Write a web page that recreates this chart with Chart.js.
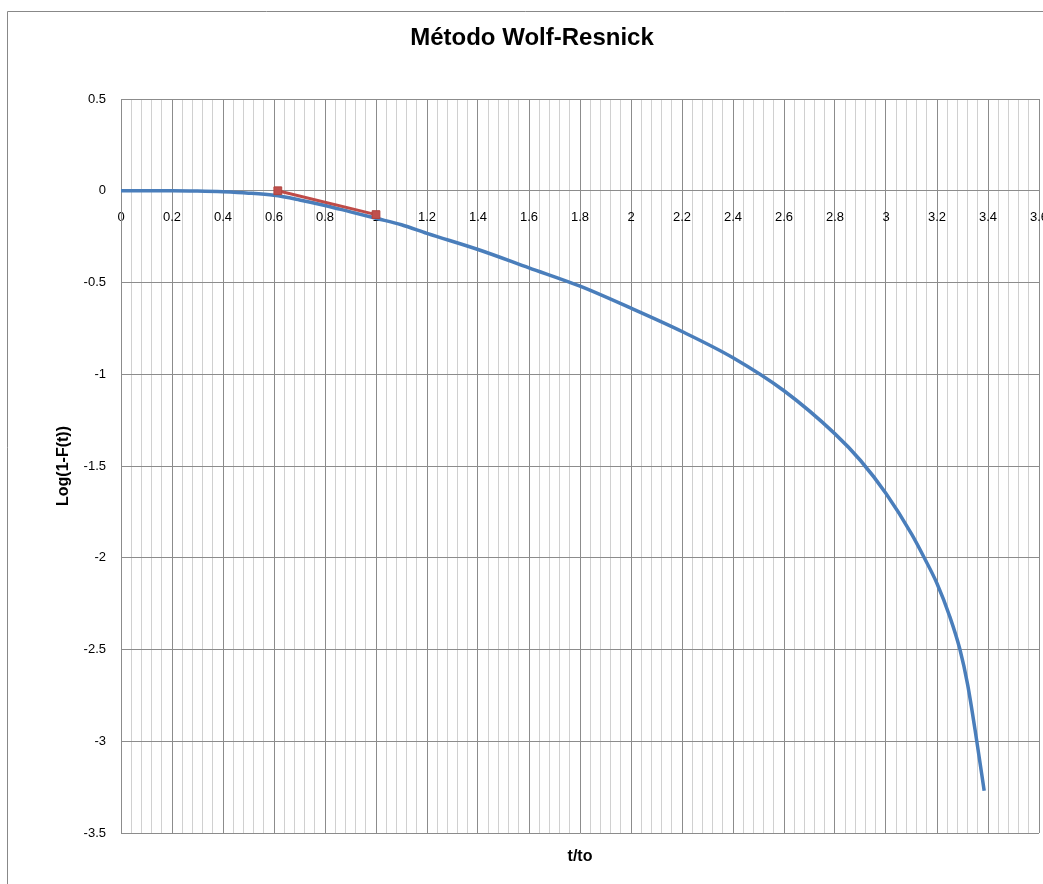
<!DOCTYPE html>
<html>
<head>
<meta charset="utf-8">
<script src="https://cdn.jsdelivr.net/npm/chart.js@4/dist/chart.umd.min.js"></script>
<style>
html,body{margin:0;padding:0;background:#fff;}
#wrap{position:relative;width:1043px;height:884px;}
</style>
</head>
<body>
<div id="wrap"><canvas id="c" width="1043" height="884"></canvas></div>
<script>
const chartTitle = "Método Wolf-Resnick";
const xTitle = "t/to";
const yTitle = "Log(1-F(t))";

const curveX = [0, 0.1, 0.2, 0.3, 0.4, 0.5, 0.6, 0.7, 0.8, 0.9, 1.0, 1.1, 1.2, 1.4, 1.6, 1.8, 2.0, 2.2, 2.4, 2.6, 2.8, 2.9, 3.0, 3.1, 3.15, 3.2, 3.25, 3.29, 3.32, 3.355, 3.385];
const curveY = [0, 0, 0, -0.002, -0.006, -0.013, -0.025, -0.05, -0.08, -0.115, -0.15, -0.185, -0.232, -0.32, -0.42, -0.52, -0.64, -0.767, -0.91, -1.09, -1.325, -1.47, -1.65, -1.87, -2.0, -2.14, -2.32, -2.5, -2.69, -2.99, -3.27];

const fitX = [0.615, 1.0];
const fitY = [0.0, -0.13];

const xMin = 0, xMax = 3.6, xMinorStep = 0.04, xLabelStep = 0.2;
const yMin = -3.5, yMax = 0.5, yStep = 0.5;

const toPts = (xs, ys) => xs.map((x, i) => ({x: x, y: ys[i]}));
const isMajor = v => Math.abs(v / xLabelStep - Math.round(v / xLabelStep)) < 1e-6;

const frame = {
  id: 'frame',
  afterDraw(chart) {
    const ctx = chart.ctx;
    ctx.save();
    ctx.strokeStyle = '#888888';
    ctx.lineWidth = 1;
    ctx.beginPath();
    ctx.moveTo(7.5, 884);
    ctx.lineTo(7.5, 11.5);
    ctx.lineTo(1043, 11.5);
    ctx.stroke();
    ctx.restore();
  }
};

new Chart(document.getElementById('c'), {
  type: 'scatter',
  data: {
    datasets: [
      {
        label: 'fit',
        data: toPts(fitX, fitY),
        showLine: true,
        borderColor: '#BE4B48',
        backgroundColor: '#C0504D',
        borderWidth: 3,
        pointStyle: 'rect',
        pointRadius: 5.5,
        pointBorderColor: '#B0443F',
        pointBorderWidth: 1,
        order: 0
      },
      {
        label: 'curve',
        data: toPts(curveX, curveY),
        showLine: true,
        borderColor: '#4A7EBB',
        borderWidth: 3.5,
        pointRadius: 0,
        cubicInterpolationMode: 'monotone',
        order: 1
      }
    ]
  },
  options: {
    responsive: false,
    animation: false,
    layout: {autoPadding: false, padding: {left: 25, right: 4, top: 0, bottom: 0}},
    plugins: {
      legend: {display: false},
      tooltip: {enabled: false},
      title: {
        display: true,
        text: chartTitle,
        color: '#000',
        font: {family: 'Liberation Sans, Arial, sans-serif', size: 24, weight: 'bold'},
        padding: {top: 23.6, bottom: 46.6}
      }
    },
    scales: {
      x: {
        type: 'linear',
        position: {y: 0},
        min: xMin, max: xMax,
        grid: {
          drawTicks: false,
          color: ctx => (ctx.tick && isMajor(ctx.tick.value)) ? '#8c8c8c' : '#d0d0d0',
          lineWidth: 1
        },
        border: {display: true, color: '#8c8c8c', width: 1},
        ticks: {
          stepSize: xMinorStep,
          autoSkip: false,
          maxRotation: 0,
          minRotation: 0,
          padding: 19,
          color: '#000',
          font: {family: 'Liberation Sans, Arial, sans-serif', size: 13},
          callback: v => isMajor(v) ? String(Math.round(v * 10) / 10) : ''
        },
        afterFit: s => { s.paddingLeft = 0; s.paddingRight = 0; }
      },
      x2: {
        type: 'linear',
        position: 'bottom',
        axis: 'x',
        min: xMin, max: xMax,
        grid: {display: false, drawTicks: false},
        border: {display: false},
        ticks: {display: false},
        title: {
          display: true,
          text: xTitle,
          color: '#000',
          font: {family: 'Liberation Sans, Arial, sans-serif', size: 16, weight: 'bold'},
          padding: {top: 4, bottom: 18}
        },
        afterFit: s => { s.height = 51; s.paddingLeft = 0; s.paddingRight = 0; }
      },
      y: {
        type: 'linear',
        position: 'left',
        min: yMin, max: yMax,
        grid: {drawTicks: false, color: '#8c8c8c', lineWidth: 1},
        border: {display: true, color: '#8c8c8c', width: 1},
        ticks: {
          stepSize: yStep,
          padding: 15,
          color: '#000',
          font: {family: 'Liberation Sans, Arial, sans-serif', size: 13},
          callback: v => String(v)
        },
        title: {
          display: true,
          text: yTitle,
          color: '#000',
          font: {family: 'Liberation Sans, Arial, sans-serif', size: 16, weight: 'bold'},
          padding: {top: 29, bottom: 4}
        },
        afterFit: s => { s.width = 96; s.paddingTop = 0; s.paddingBottom = 0; }
      }
    }
  },
  plugins: [frame]
});
</script>
</body>
</html>
